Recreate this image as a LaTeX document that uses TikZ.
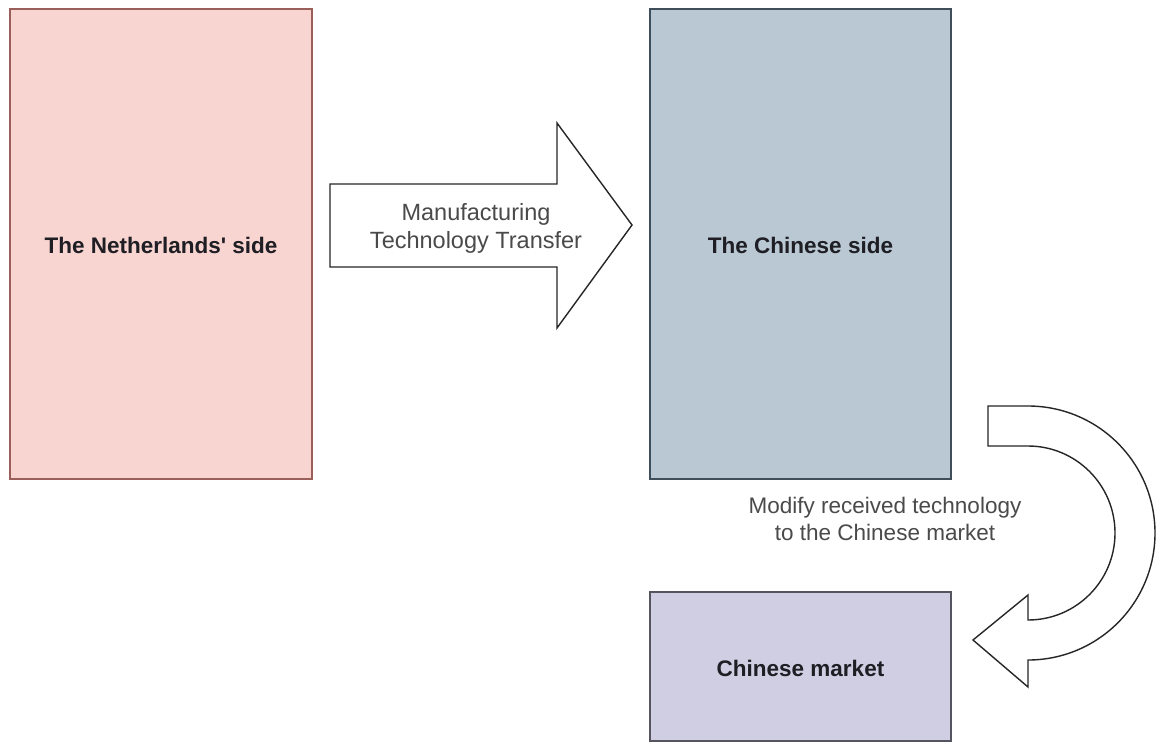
\documentclass[tikz,border=0pt]{standalone}
\usepackage{fontspec}
\setmainfont{Liberation Sans}
\definecolor{nlfill}{HTML}{F8D5D0}
\definecolor{nldraw}{HTML}{9A5F5B}
\definecolor{cnfill}{HTML}{BAC8D3}
\definecolor{cndraw}{HTML}{3E4E5A}
\definecolor{mkfill}{HTML}{D0CEE2}
\definecolor{mkdraw}{HTML}{55545F}
\definecolor{labgray}{HTML}{4A4A4A}
\definecolor{boxtext}{HTML}{1E1E24}
\tikzset{
  boxlabel/.style={font=\fontsize{22.5}{27}\selectfont\bfseries, text=boxtext},
  arrowlabel/.style={font=\fontsize{23.5}{28}\selectfont, text=labgray, align=center},
  bigarrow/.style={draw=black!85, line width=1.4pt, fill=white, line join=miter},
}
\begin{document}
\begin{tikzpicture}[x=1pt,y=-1pt]
\useasboundingbox (0,0) rectangle (1156,742);
\fill[white] (0,0) rectangle (1156,742);
% boxes
\draw[fill=nlfill, draw=nldraw, line width=1.4pt] (10,9) rectangle (312,479);
\node[boxlabel] (nl) at (161,245) {The Netherlands\textquotesingle\ side};
\draw[fill=cnfill, draw=cndraw, line width=1.4pt] (650,9) rectangle (951,479);
\node[boxlabel] (cn) at (800.5,245) {The Chinese side};
\draw[fill=mkfill, draw=mkdraw, line width=1.4pt] (650,592) rectangle (951,741);
\node[boxlabel] (mk) at (800.5,668) {Chinese market};
% straight block arrow
\draw[bigarrow] (330,184) -- (557,184) -- (557,123) -- (632,225) -- (557,328) -- (557,267) -- (330,267) -- cycle;
\node[arrowlabel] (tr) at (476,228) {Manufacturing\\Technology Transfer};
% U-turn arrow
\draw[bigarrow] (988,406) -- (1028,406) arc[start angle=-90,end angle=90,radius=127]
  -- (1028,687) -- (973,640) -- (1028,595) -- (1028,620)
  arc[start angle=90,end angle=-90,radius=87] -- (988,446) -- cycle;
\node[arrowlabel, font=\fontsize{22.5}{27}\selectfont] (mod) at (885,519) {Modify received technology\\to the Chinese market};
\end{tikzpicture}
\end{document}
